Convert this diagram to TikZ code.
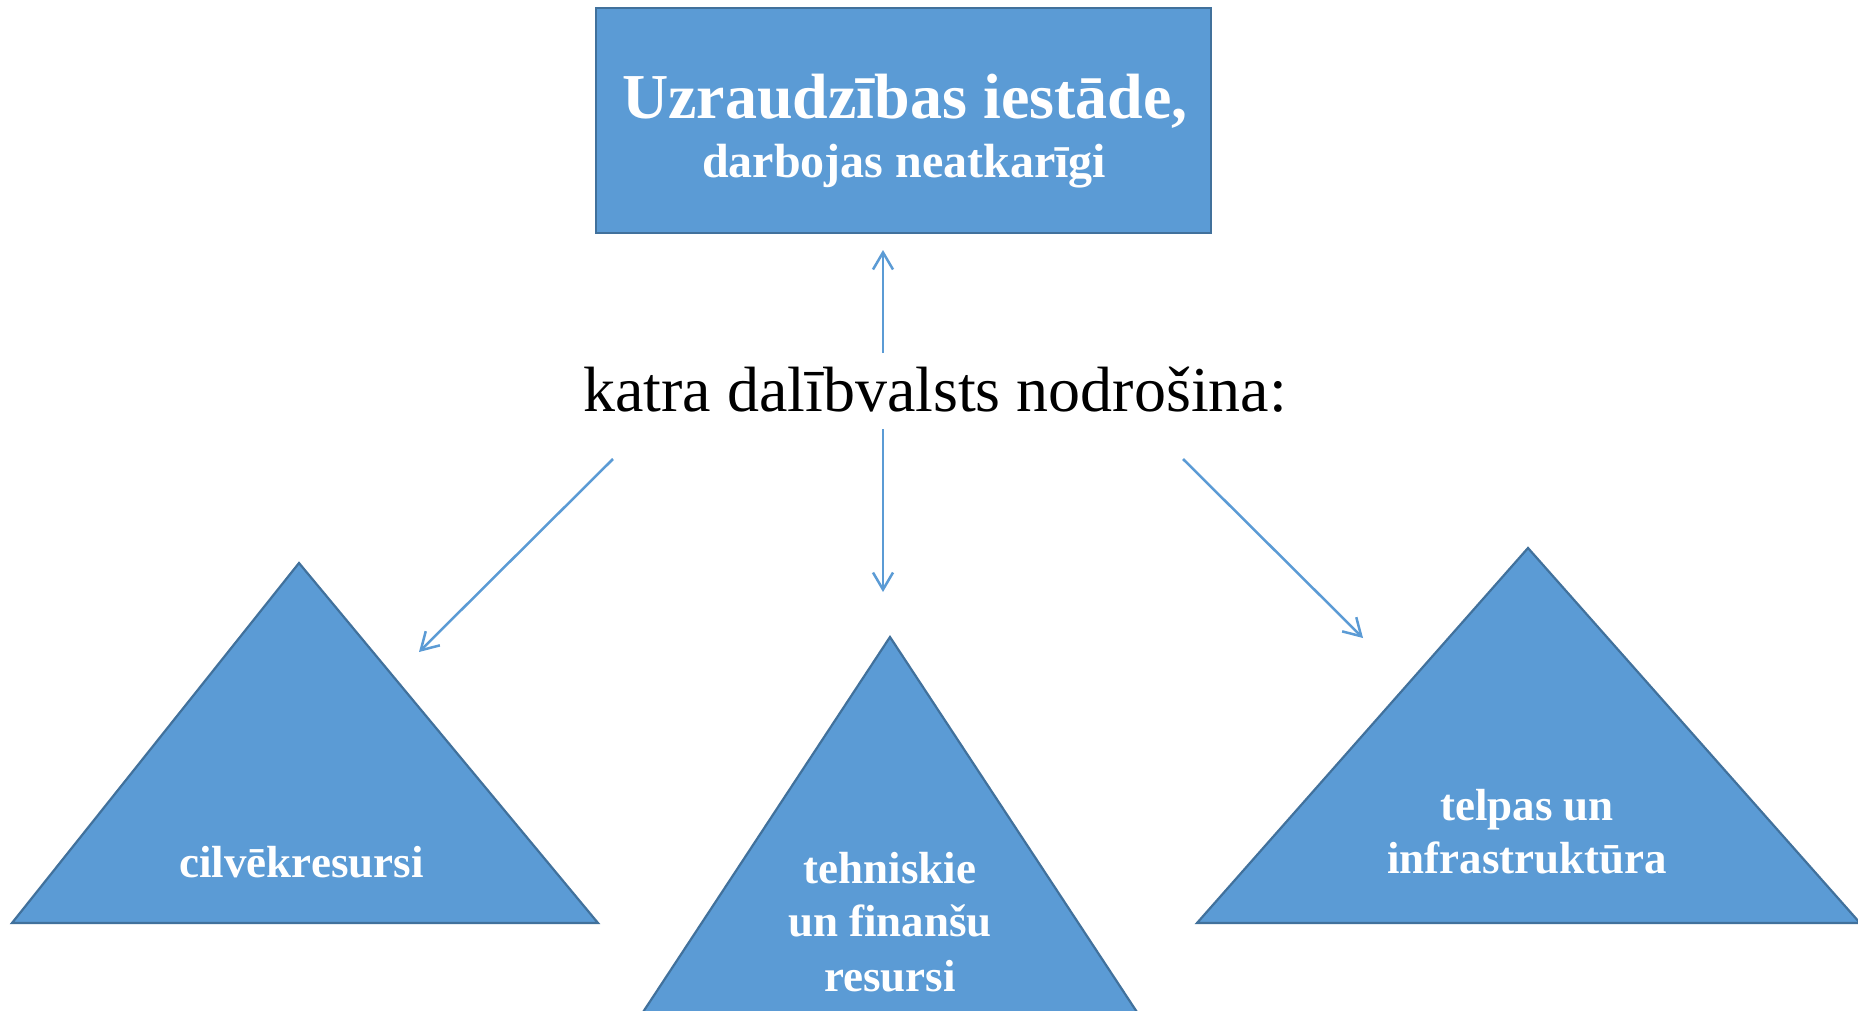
\documentclass[tikz,border=0pt]{standalone}
\usepackage{fontspec}
\setmainfont{Liberation Serif}
\usetikzlibrary{arrows.meta}
\definecolor{fillblue}{HTML}{5B9BD5}
\definecolor{edgeblue}{HTML}{41719C}
\tikzset{
  blueshape/.style={fill=fillblue, draw=edgeblue, line width=2.2pt, line join=miter},
  whitelbl/.style={text=white, font=\bfseries\fontsize{45}{54}\selectfont, anchor=base, inner sep=0pt},
  conn/.style={draw=fillblue, line width=2.5pt, -{Straight Barb[length=17pt,width=20pt,line width=2.5pt]}},
}
\begin{document}
\begin{tikzpicture}[x=1pt,y=-1pt]
\clip (0,0) rectangle (1858,1010);
\useasboundingbox (0,0) rectangle (1858,1010);
\fill[white] (0,0) rectangle (1858,1010);
% top box
\draw[blueshape] (596,8) rectangle (1211,233);
\node[text=white, font=\bfseries\fontsize{64}{64}\selectfont, anchor=base, inner sep=0pt] (t1) at (905,118.5) {Uzraudzības iestāde,};
\node[text=white, font=\bfseries\fontsize{48}{48}\selectfont, anchor=base, inner sep=0pt] (t2) at (904,177) {darbojas neatkarīgi};
% middle text
\node[text=black, font=\fontsize{64}{64}\selectfont, anchor=base, inner sep=0pt] (mid) at (935,411) {katra dalībvalsts nodrošina:};
% triangles
\draw[blueshape] (299,563) -- (598,923) -- (12,923) -- cycle;
\draw[blueshape] (890,637) -- (1158,1044) -- (622,1044) -- cycle;
\draw[blueshape] (1528,548) -- (1860,923) -- (1197,923) -- cycle;
% labels
\node[whitelbl] (l1) at (301.5,877) {cilvēkresursi};
\node[whitelbl] (l2a) at (890,883) {tehniskie};
\node[whitelbl] (l2b) at (890,936) {un finanšu};
\node[whitelbl] (l2c) at (890,991) {resursi};
\node[whitelbl] (l3a) at (1527,820) {telpas un};
\node[whitelbl] (l3b) at (1527,873) {infrastruktūra};
% arrow coordinates
\coordinate (upS) at (883,353);
\coordinate (upE) at (883,250);
\coordinate (dnS) at (883,429);
\coordinate (dnE) at (883,592);
\coordinate (lS) at (613,459);
\coordinate (lE) at (419,652);
\coordinate (rS) at (1183,459);
\coordinate (rE) at (1363,638);
\draw[conn] (upS) -- (upE);
\draw[conn] (dnS) -- (dnE);
\draw[conn] (lS) -- (lE);
\draw[conn] (rS) -- (rE);
\end{tikzpicture}
\end{document}
